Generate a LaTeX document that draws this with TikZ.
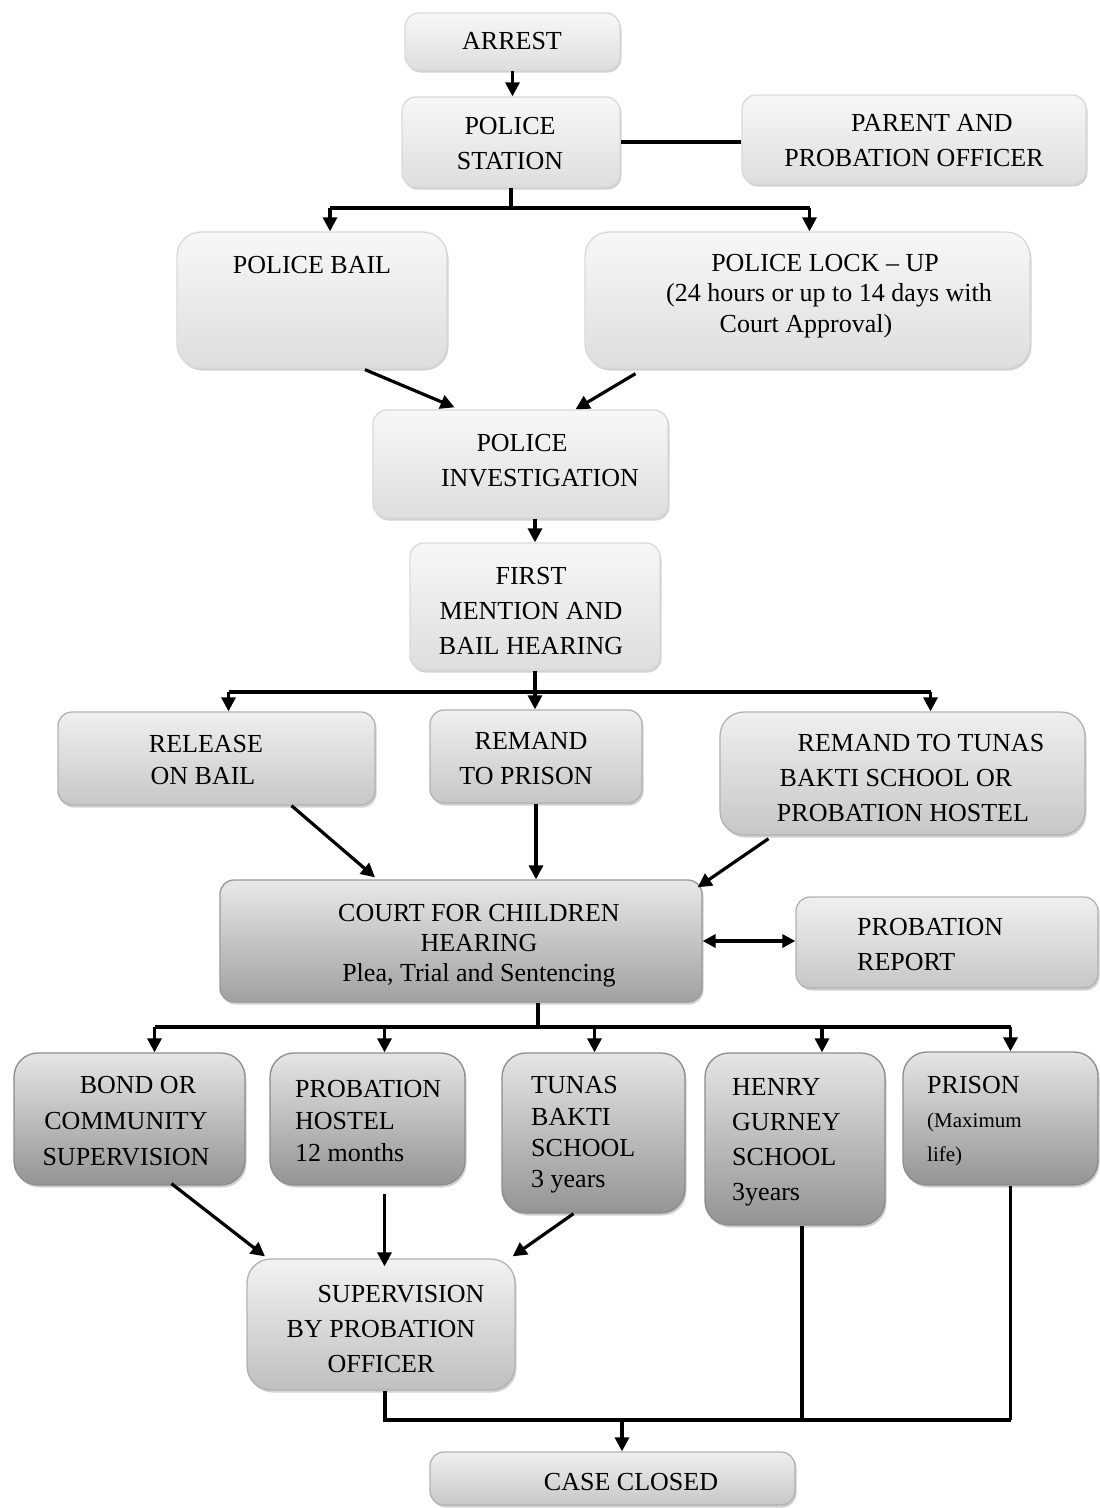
\documentclass[tikz,border=0pt]{standalone}
\usepackage{fontspec}
\setmainfont{Liberation Serif}
\usetikzlibrary{arrows.meta,shadows}
\newcommand\bbox[6]{\node[#2, minimum width={(#5)-(#3)}, minimum height={(#6)-(#4)}] (#1) at ({((#3)+(#5))/2},{((#4)+(#6))/2}) {};}
\begin{document}
\begin{tikzpicture}[x=1pt,y=-1pt,
  box/.style={rectangle, rounded corners=14pt, line width=1.3pt, inner sep=0pt,
    drop shadow={shadow xshift=1.5pt, shadow yshift=-2.5pt, opacity=0.18, fill=black}},
  big/.style={rounded corners=24pt},
  lt/.style={box, draw=black!15, top color=black!3, bottom color=black!13},
  md/.style={box, draw=black!30, top color=black!6, bottom color=black!22},
  sp/.style={box, draw=black!30, top color=black!5, bottom color=black!25},
  dk/.style={box, draw=black!40, top color=black!9, bottom color=black!37},
  dkk/.style={box, big, draw=black!45, top color=black!10, bottom color=black!42},
  txt/.style={font=\fontsize{26}{35}\selectfont, align=center, inner sep=0pt},
  txtl/.style={txt, align=left, anchor=west},
  ln/.style={line width=3.2pt},
  arr/.style={ln, -{Triangle[length=14pt,width=14pt]}},
  arr2/.style={ln, {Triangle[length=13pt,width=13pt]}-{Triangle[length=13pt,width=13pt]}}
]
\useasboundingbox (0,0) rectangle (1100,1508);

% boxes
\bbox{arrest}{lt}{405}{13}{620}{70}
\bbox{ps}{lt}{402}{97}{620}{187}
\bbox{parent}{lt}{742}{95}{1086}{184}
\bbox{bail}{lt,big}{177}{232}{447}{368}
\bbox{lock}{lt,big}{585}{232}{1030}{368}
\bbox{inv}{lt}{373}{410}{668}{518}
\bbox{fm}{lt}{410}{543}{660}{670}
\bbox{rel}{md}{58}{712}{375}{805}
\bbox{rem}{md}{430}{710}{642}{803}
\bbox{rt}{md,big}{720}{712}{1085}{835}
\bbox{court}{dk}{220}{880}{702}{1002}
\bbox{rep}{md}{796}{897}{1098}{988}
\bbox{bond}{dkk}{14}{1053}{245}{1185}
\bbox{ph}{dkk}{270}{1053}{465}{1185}
\bbox{tb}{dkk}{502}{1053}{685}{1213}
\bbox{hg}{dkk}{705}{1053}{885}{1225}
\bbox{pr}{dkk}{903}{1052}{1098}{1185}
\bbox{sup}{sp,big}{247}{1259}{515}{1390}
\bbox{cc}{md}{430}{1452}{795}{1505}

% texts
\node[txt] (arrest-t) at (512,41) {ARREST};
\node[txt] (ps-t) at (510,144) {POLICE\\STATION};
\node[txt] (parent-t) at (914,141) {\hspace*{36pt}PARENT AND\\PROBATION OFFICER};
\node[txt] (bail-t) at (312,265) {POLICE BAIL};
\node[txt, font=\fontsize{26}{30.5}\selectfont] (lock-t) at (829,296) {\hspace*{-8pt}POLICE LOCK -- UP\\(24 hours or up to 14 days with\\\hspace*{-46pt}Court Approval)};
\node[txt] (inv-t) at (540,461) {POLICE\hspace*{36pt}\\INVESTIGATION};
\node[txt] (fm-t) at (531,611) {FIRST\\MENTION AND\\BAIL HEARING};
\node[txt, font=\fontsize{26}{32}\selectfont] (rel-t) at (203,760) {\hspace*{6pt}RELEASE\\ON BAIL};
\node[txt] (rem-t) at (526,759) {\hspace*{10pt}REMAND\\TO PRISON};
\node[txt] (rt-t) at (903,778) {\hspace*{36pt}REMAND TO TUNAS\\\hspace*{-14pt}BAKTI SCHOOL OR\\PROBATION HOSTEL};
\node[txt, font=\fontsize{26}{30}\selectfont] (court-t) at (479,946) {COURT FOR CHILDREN\\HEARING\hspace*{34pt}\\Plea, Trial and Sentencing};
\node[txtl] (rep-t) at (857,945) {PROBATION\\REPORT};
\node[txt, font=\fontsize{26}{36}\selectfont] (bond-t) at (126,1121) {\hspace*{24pt}BOND OR\\COMMUNITY\\SUPERVISION};
\node[txtl, font=\fontsize{26}{32}\selectfont] (ph-t) at (295,1121) {PROBATION\\HOSTEL\\12 months};
\node[txtl, font=\fontsize{26}{31.3}\selectfont] (tb-t) at (531,1135) {TUNAS\\BAKTI\\SCHOOL\\3 years};
\node[txtl, font=\fontsize{26}{35}\selectfont] (hg-t) at (732,1142) {HENRY\\GURNEY\\SCHOOL\\3years};
\node[txtl, font=\fontsize{26}{34}\selectfont] (pr-t) at (927,1121) {PRISON\\{\fontsize{21}{30}\selectfont (Maximum}\\{\fontsize{21}{30}\selectfont life)}};
\node[txt] (sup-t) at (381,1329) {\hspace*{40pt}SUPERVISION\\BY PROBATION\\OFFICER};
\node[txt] (cc-t) at (631,1482) {CASE CLOSED};

% connectors
\coordinate (j1) at (511,208);
\coordinate (j2) at (537,692);
\coordinate (j3) at (538,1027);
\coordinate (j4) at (622,1420);

\draw[arr] (arrest.south) -- (arrest.south |- ps.north);
\draw[ln] (ps.east) -- (ps.east -| parent.west);
\draw[ln] (ps.south) -- (ps.south |- j1);
\draw[ln] ([xshift=18pt]bail.north |- j1) -- ([xshift=2pt]lock.north |- j1);
\draw[arr] ([xshift=18pt]bail.north |- j1) -- ([xshift=18pt]bail.north);
\draw[arr] ([xshift=2pt]lock.north |- j1) -- ([xshift=2pt]lock.north);
\draw[arr] ([xshift=53pt,yshift=-1pt]bail.south) -- ([xshift=-66pt,yshift=2pt]inv.north);
\draw[arr] ([xshift=-172pt,yshift=-5pt]lock.south) -- ([xshift=55pt]inv.north);
\draw[arr] (inv.south -| fm.north) -- (fm.north);
\draw[arr] (fm.south) -- (fm.south |- rem.north);
\draw[ln] ([xshift=12pt]rel.north |- j2) -- ([xshift=28pt]rt.north |- j2);
\draw[arr] ([xshift=12pt]rel.north |- j2) -- ([xshift=12pt]rel.north);
\draw[arr] ([xshift=28pt]rt.north |- j2) -- ([xshift=28pt]rt.north);
\draw[arr] ([xshift=75pt]rel.south) -- ([xshift=-86pt,yshift=2pt]court.north);
\draw[arr] (rem.south) -- (rem.south |- court.north);
\draw[arr] ([xshift=-134pt,yshift=-3pt]rt.south) -- ([xshift=-5pt,yshift=-8pt]court.north east);
\draw[arr2] (court.east) -- (court.east -| rep.west);
\draw[ln] (court.south -| j3) -- (j3);
\draw[ln] ([xshift=25pt]bond.north |- j3) -- ([xshift=10pt]pr.north |- j3);
\draw[arr] ([xshift=25pt]bond.north |- j3) -- ([xshift=25pt]bond.north);
\draw[arr] ([xshift=17pt]ph.north |- j3) -- ([xshift=17pt]ph.north);
\draw[arr] ([xshift=1pt]tb.north |- j3) -- ([xshift=1pt]tb.north);
\draw[arr] ([xshift=27pt]hg.north |- j3) -- ([xshift=27pt]hg.north);
\draw[arr] ([xshift=10pt]pr.north |- j3) -- ([xshift=10pt]pr.north);
\draw[arr] ([xshift=42pt,yshift=2pt]bond.south) -- ([xshift=-116pt,yshift=2pt]sup.north);
\draw[arr] ([xshift=17pt,yshift=-8pt]ph.south) -- ([xshift=17pt,yshift=-8pt]ph.south |- sup.north);
\draw[arr] ([xshift=-20pt]tb.south) -- ([xshift=-3pt,yshift=2pt]sup.north east);
\draw[ln] ([xshift=4pt]sup.south) -- ([xshift=4pt]sup.south |- j4) -- ([xshift=10pt]pr.south |- j4);
\draw[ln] ([xshift=7pt]hg.south) -- ([xshift=7pt]hg.south |- j4);
\draw[ln] ([xshift=10pt]pr.south) -- ([xshift=10pt]pr.south |- j4);
\draw[arr] (j4) -- (j4 |- cc.north);
\end{tikzpicture}
\end{document}
